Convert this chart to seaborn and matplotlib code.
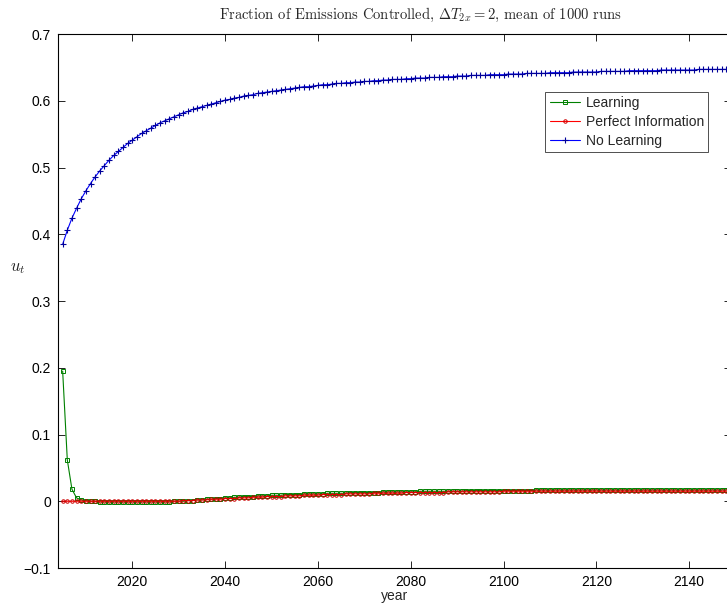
import matplotlib
matplotlib.use("Agg")
import matplotlib.pyplot as plt
import seaborn as sns

years = list(range(2005, 2150))

no_learning = [
    0.385, 0.406, 0.424, 0.439, 0.453, 0.465, 0.476, 0.486, 0.495, 0.503,
    0.511, 0.518, 0.524, 0.530, 0.536, 0.541, 0.546, 0.551, 0.555, 0.559,
    0.563, 0.567, 0.570, 0.573, 0.576, 0.579, 0.582, 0.584, 0.587, 0.589,
    0.591, 0.593, 0.595, 0.597, 0.599, 0.601, 0.602, 0.604, 0.605, 0.607,
    0.608, 0.609, 0.611, 0.612, 0.613, 0.614, 0.615, 0.616, 0.617, 0.618,
    0.619, 0.620, 0.621, 0.621, 0.622, 0.623, 0.624, 0.624, 0.625, 0.626,
    0.626, 0.627, 0.627, 0.628, 0.628, 0.629, 0.629, 0.630, 0.630, 0.631,
    0.631, 0.632, 0.632, 0.632, 0.633, 0.633, 0.634, 0.634, 0.634, 0.635,
    0.635, 0.635, 0.636, 0.636, 0.636, 0.637, 0.637, 0.637, 0.638, 0.638,
    0.638, 0.638, 0.639, 0.639, 0.639, 0.639, 0.640, 0.640, 0.640, 0.640,
    0.641, 0.641, 0.641, 0.641, 0.641, 0.642, 0.642, 0.642, 0.642, 0.642,
    0.643, 0.643, 0.643, 0.643, 0.643, 0.643, 0.644, 0.644, 0.644, 0.644,
    0.644, 0.644, 0.645, 0.645, 0.645, 0.645, 0.645, 0.645, 0.645, 0.646,
    0.646, 0.646, 0.646, 0.646, 0.646, 0.646, 0.646, 0.647, 0.647, 0.647,
    0.647, 0.647, 0.647, 0.647, 0.647,
]

learning = [
    0.195, 0.062, 0.018, 0.005, 0.002, 0.001, 0.000, 0.000, -0.001, -0.001,
    -0.001, -0.001, -0.001, -0.001, -0.001, -0.001, -0.001, -0.001, -0.001, -0.001,
    -0.001, -0.001, -0.001, -0.001, 0.000, 0.000, 0.000, 0.001, 0.001, 0.002,
    0.002, 0.003, 0.003, 0.004, 0.004, 0.005, 0.005, 0.006, 0.006, 0.007,
    0.007, 0.007, 0.008, 0.008, 0.008, 0.009, 0.009, 0.009, 0.010, 0.010,
    0.010, 0.010, 0.011, 0.011, 0.011, 0.011, 0.011, 0.012, 0.012, 0.012,
    0.012, 0.012, 0.013, 0.013, 0.013, 0.013, 0.013, 0.013, 0.013, 0.014,
    0.014, 0.014, 0.014, 0.014, 0.014, 0.014, 0.014, 0.015, 0.015, 0.015,
    0.015, 0.015, 0.015, 0.015, 0.015, 0.015, 0.015, 0.016, 0.016, 0.016,
    0.016, 0.016, 0.016, 0.016, 0.016, 0.016, 0.016, 0.016, 0.016, 0.016,
    0.016, 0.016, 0.017, 0.017, 0.017, 0.017, 0.017, 0.017, 0.017, 0.017,
    0.017, 0.017, 0.017, 0.017, 0.017, 0.017, 0.017, 0.017, 0.017, 0.017,
    0.017, 0.017, 0.017, 0.017, 0.017, 0.017, 0.017, 0.017, 0.017, 0.017,
    0.017, 0.017, 0.017, 0.017, 0.017, 0.017, 0.017, 0.017, 0.017, 0.017,
    0.017, 0.017, 0.017, 0.017, 0.017,
]

perfect_info = [
    0.000, 0.000, 0.000, 0.000, 0.000, 0.000, 0.000, 0.000, 0.000, 0.000,
    0.000, 0.000, 0.000, 0.000, 0.000, 0.000, 0.000, 0.000, 0.000, 0.000,
    0.000, 0.000, 0.000, 0.000, 0.000, 0.000, 0.001, 0.001, 0.001, 0.002,
    0.002, 0.002, 0.003, 0.003, 0.003, 0.004, 0.004, 0.004, 0.005, 0.005,
    0.005, 0.006, 0.006, 0.006, 0.007, 0.007, 0.007, 0.007, 0.008, 0.008,
    0.008, 0.008, 0.009, 0.009, 0.009, 0.009, 0.010, 0.010, 0.010, 0.010,
    0.010, 0.011, 0.011, 0.011, 0.011, 0.011, 0.011, 0.012, 0.012, 0.012,
    0.012, 0.012, 0.012, 0.012, 0.013, 0.013, 0.013, 0.013, 0.013, 0.013,
    0.013, 0.013, 0.013, 0.014, 0.014, 0.014, 0.014, 0.014, 0.014, 0.014,
    0.014, 0.014, 0.014, 0.014, 0.014, 0.015, 0.015, 0.015, 0.015, 0.015,
    0.015, 0.015, 0.015, 0.015, 0.015, 0.015, 0.015, 0.015, 0.015, 0.015,
    0.015, 0.015, 0.015, 0.015, 0.015, 0.015, 0.015, 0.015, 0.015, 0.015,
    0.015, 0.015, 0.015, 0.015, 0.015, 0.015, 0.015, 0.015, 0.015, 0.015,
    0.015, 0.015, 0.015, 0.015, 0.015, 0.015, 0.015, 0.015, 0.015, 0.015,
    0.015, 0.015, 0.015, 0.015, 0.015,
]

xticks = [2020, 2040, 2060, 2080, 2100, 2120, 2140]
yticks = [-0.1, 0, 0.1, 0.2, 0.3, 0.4, 0.5, 0.6, 0.7]
ytick_labels = ['\u22120.1', '0', '0.1', '0.2', '0.3', '0.4', '0.5', '0.6', '0.7']

sns.set_theme(style='ticks')
plt.rcParams['font.family'] = ['Liberation Sans', 'DejaVu Sans']
plt.rcParams['mathtext.fontset'] = 'cm'

fig = plt.figure(figsize=(7.27, 6.04), dpi=100)
ax = fig.add_axes([0.0798, 0.0596, 0.9257, 0.8841])

sns.lineplot(x=years, y=learning, ax=ax, color=(0, 0.5, 0), lw=0.8,
             marker='s', markersize=3.5, markerfacecolor='none',
             markeredgecolor=(0, 0.5, 0), markeredgewidth=0.7, label='Learning')
sns.lineplot(x=years, y=perfect_info, ax=ax, color='red', lw=0.8,
             marker='o', markersize=2.5, markerfacecolor='none',
             markeredgecolor=(0.8, 0, 0), markeredgewidth=0.7, label='Perfect Information')
sns.lineplot(x=years, y=no_learning, ax=ax, color='blue', lw=0.8,
             marker='+', markersize=5, markeredgecolor=(0, 0, 0.6),
             markeredgewidth=0.8, label='No Learning')

ax.set_xlim(2004, 2149)
ax.set_ylim(-0.1, 0.7)
ax.set_xticks(xticks)
ax.set_yticks(yticks)
ax.set_yticklabels(ytick_labels)
ax.tick_params(direction='in', top=True, right=True, length=5, width=0.6,
               labelsize=10, pad=5, colors='black')
for s in ax.spines.values():
    s.set_linewidth(0.8)
    s.set_color('black')

ax.set_xlabel('year', fontsize=10, labelpad=0)
ax.set_ylabel('')

leg = ax.legend(loc='upper right', bbox_to_anchor=(0.966, 0.892), borderaxespad=0,
                fontsize=10, frameon=True, fancybox=False, handlelength=2.2,
                handletextpad=0.4, labelspacing=0.35, borderpad=0.3)
leg.get_frame().set_edgecolor('black')
leg.get_frame().set_linewidth(0.6)

fig.text(421 / 727, 1 - 15 / 604,
         r'Fraction of Emissions Controlled, $\Delta T_{2x} = 2$, mean of 1000 runs',
         ha='center', va='center', fontsize=10.5, family='cmr10')
fig.text(18 / 727, 1 - 268 / 604, r'$u_t$', ha='center', va='center', fontsize=12)

fig.savefig('out.png', dpi=100)
